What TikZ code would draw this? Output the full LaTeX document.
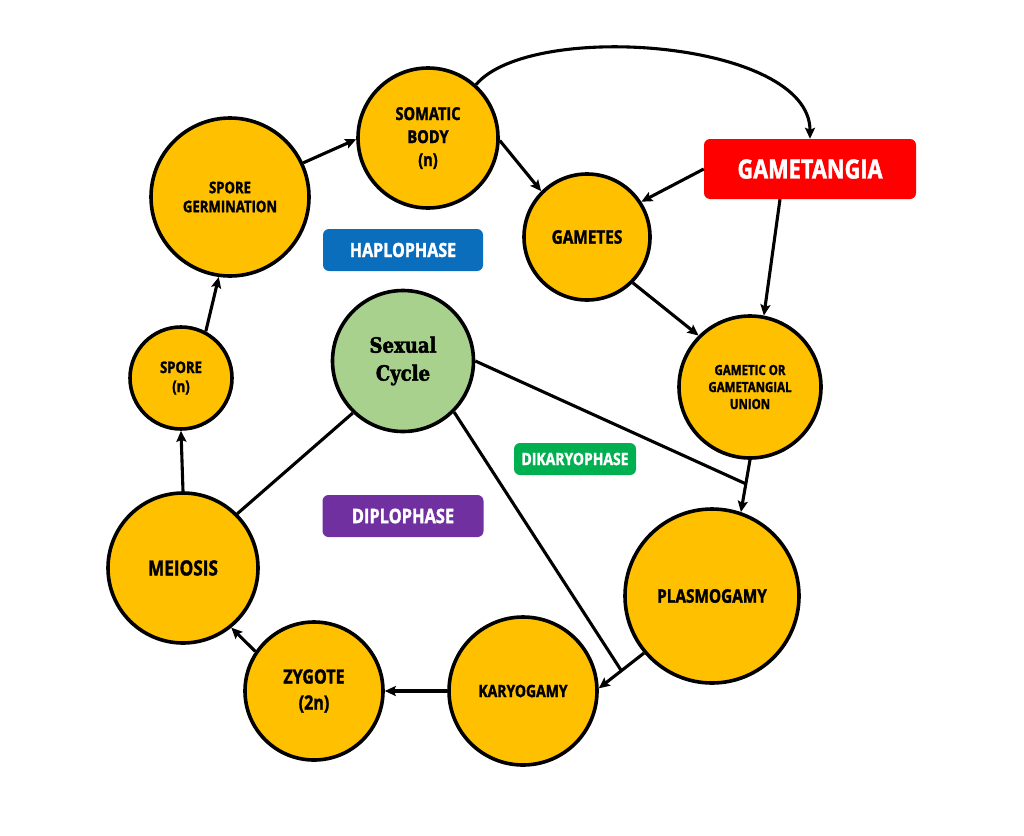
\documentclass[tikz,border=0pt]{standalone}
\usepackage{fontspec}
\setmainfont{Open Sans}
\newfontfamily\cond[FakeStretch=0.82,FakeBold=1.6]{Open Sans}
\newfontfamily\heavyserif[FakeStretch=0.86,FakeBold=2.2]{DejaVu Serif}
\usetikzlibrary{arrows.meta,calc}
\definecolor{ylw}{HTML}{FFC000}
\definecolor{sgreen}{HTML}{A9D18E}
\definecolor{hblue}{HTML}{0A6EBD}
\definecolor{dpurple}{HTML}{7030A0}
\definecolor{kgreen}{HTML}{00B050}
\definecolor{gred}{HTML}{FF0000}
\newcommand\fsz[2]{\fontsize{#1}{#2}\selectfont}
\tikzset{
  bub/.style={circle, draw=black, line width=3.6pt, fill=ylw, inner sep=0pt, align=center},
  tagbox/.style={rounded corners=6pt, text=white, inner sep=0pt, align=center},
  arr/.style={line width=3.1pt, -{Stealth[length=11pt,width=10pt,inset=2pt]}},
  ln/.style={line width=3.1pt}
}
\begin{document}
\begin{tikzpicture}[x=1pt,y=-1pt]
\useasboundingbox (0,0) rectangle (1024,835);
% circles
\node[bub, minimum size=140pt, font=\cond\bfseries\fsz{17.8}{23}] (som) at (428,138) {SOMATIC\\BODY\\(n)};
\node[bub, minimum size=158pt, font=\cond\bfseries\fsz{16}{19}] (germ) at (230,197) {SPORE\\GERMINATION};
\node[bub, minimum size=102pt, font=\cond\bfseries\fsz{16}{19}] (spore) at (181,378) {SPORE\\(n)};
\node[bub, minimum size=150pt, font=\cond\bfseries\fsz{21}{25}] (mei) at (183,568) {MEIOSIS};
\node[bub, minimum size=138pt, font=\cond\bfseries\fsz{19.6}{26}] (zyg) at (314,691) {ZYGOTE\\(2n)};
\node[bub, minimum size=148pt, font=\cond\bfseries\fsz{17}{20}] (kar) at (523,691) {KARYOGAMY};
\node[bub, minimum size=174pt, font=\cond\bfseries\fsz{18.7}{22}] (pla) at (712,596) {PLASMOGAMY};
\node[bub, minimum size=142pt, font=\cond\bfseries\fsz{14}{17}] (uni) at (750,387) {GAMETIC OR\\GAMETANGIAL\\UNION};
\node[bub, minimum size=126pt, font=\cond\bfseries\fsz{18.7}{22}] (gam) at (587,237) {GAMETES};
\node[circle, draw=black, line width=3.6pt, fill=sgreen, inner sep=0pt, minimum size=141pt, align=center, font=\heavyserif\bfseries\fsz{21}{28}] (sex) at (403,361) {Sexual\\Cycle};
% labels
\node[tagbox, fill=gred, minimum width=212pt, minimum height=60pt, font=\cond\bfseries\fsz{26.5}{30}] (gtg) at (810,169) {GAMETANGIA};
\node[tagbox, fill=hblue, minimum width=160pt, minimum height=42pt, font=\cond\bfseries\fsz{19.6}{23}] (hap) at (403,250) {HAPLOPHASE};
\node[tagbox, fill=dpurple, minimum width=161pt, minimum height=42pt, font=\cond\bfseries\fsz{20}{23}] (dip) at (403,516) {DIPLOPHASE};
\node[tagbox, fill=kgreen, minimum width=122pt, minimum height=32pt, font=\cond\bfseries\fsz{17}{20}] (dik) at (575,459) {DIKARYOPHASE};
% arrows
\draw[arr] (germ.25) -- (som.181);
\draw[arr] (spore.62) -- (germ.262);
\draw[arr] (mei.90) -- (spore.270);
\draw[arr] (zyg.146) -- (mei.309);
\draw[arr] (kar.180) -- (zyg.0);
\draw[arr] (pla.220) -- (kar.2);
\draw[arr] (uni.270) -- (pla.71);
\draw[arr] (gam.315) -- (uni.135);
\draw[arr] (som.-2) -- (gam.135);
\draw[arr] (gtg.west) -- (gam.33);
\draw[arr] ([xshift=-30pt]gtg.south) -- (uni.79);
\draw[arr] (som.48) .. controls (530,20) and (810,40) .. (gtg.north);
% plain lines from the sexual cycle
\coordinate (j1) at ($(uni.270)!0.46!(pla.71)$);
\coordinate (j2) at ($(pla.220)!0.5!(kar.2)$);
\draw[ln] (sex.226) -- (mei.45);
\draw[ln] (sex.0) -- (j1);
\draw[ln] (sex.315) -- (j2);
\end{tikzpicture}
\end{document}
